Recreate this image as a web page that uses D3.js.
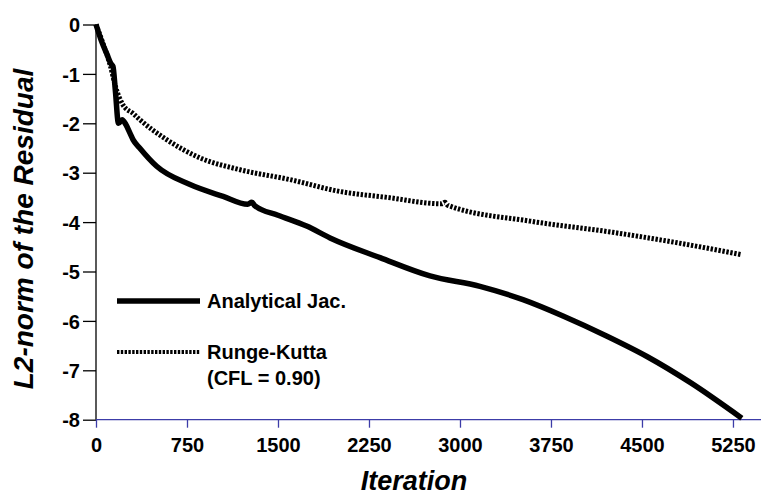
<!DOCTYPE html>
<html>
<head>
<meta charset="utf-8">
<script src="https://cdn.jsdelivr.net/npm/d3@7"></script>
<style>
  html, body { margin: 0; padding: 0; background: #fff; }
  svg { display: block; }
  text { font-family: Arial, "Liberation Sans", sans-serif; font-weight: bold; fill: #000; }
</style>
</head>
<body>
<svg id="chart" width="761" height="496"></svg>
<script>
// ---- Data ----
const xTicks = [0, 750, 1500, 2250, 3000, 3750, 4500, 5250];
const yTicks = [0, -1, -2, -3, -4, -5, -6, -7, -8];

const analyticalIter = [0, 40, 90, 125, 140, 160, 185, 215, 245, 280, 305, 360, 500, 775, 1048, 1250, 1285, 1310, 1500, 1736, 1929, 2341, 2753, 3165, 3519, 3849, 4212, 4541, 4900, 5323];
const analyticalRes  = [0, -0.3, -0.6, -0.8, -0.85, -1.35, -2.0, -1.93, -2.02, -2.2, -2.33, -2.5, -2.87, -3.24, -3.48, -3.64, -3.6, -3.67, -3.86, -4.08, -4.32, -4.72, -5.09, -5.30, -5.57, -5.90, -6.31, -6.72, -7.25, -7.97];

const rkIter = [0, 60, 120, 160, 223, 305, 363, 582, 857, 1187, 1599, 2011, 2400, 2850, 2876, 2900, 3577, 4212, 4700, 5323];
const rkRes  = [0, -0.4, -0.85, -1.25, -1.63, -1.8, -1.93, -2.33, -2.70, -2.94, -3.14, -3.38, -3.5, -3.63, -3.6, -3.66, -3.98, -4.19, -4.38, -4.66];

const seriesNames = ["Analytical Jac.", "Runge-Kutta"];
const rkNote = "(CFL = 0.90)";
const xTitle = "Iteration";
const yTitle = "L2-norm of the Residual";

// ---- Layout ----
const svg = d3.select("#chart");
const x = d3.scaleLinear().domain([0, 5500]).range([96, 763.3]);
const y = d3.scaleLinear().domain([0, -8]).range([24.5, 419.7]);

// Y axis
const yAxis = svg.append("g").attr("transform", `translate(${x(0)},0)`)
  .call(d3.axisLeft(y).tickValues(yTicks).tickSize(13).tickPadding(3).tickFormat(d3.format("d")));
yAxis.select(".domain").attr("stroke", "#000").attr("stroke-width", 1.3).attr("d", `M0,${y(0)}V${y(-8)}`);
yAxis.selectAll(".tick line").attr("stroke", "#000").attr("stroke-width", 1.3);
yAxis.selectAll(".tick text").attr("font-size", 20).attr("font-family", "Arial, 'Liberation Sans', sans-serif")
  .attr("font-weight", "bold").attr("fill", "#000").attr("dy", "0.36em").text(d => d === 0 ? "0" : "-" + Math.abs(d));

// X axis
const axisBlue = "#3c3ca8";
const xAxis = svg.append("g").attr("transform", `translate(0,${y(-8)})`)
  .call(d3.axisBottom(x).tickValues(xTicks).tickSize(8).tickPadding(10).tickFormat(d3.format("d")));
xAxis.select(".domain").attr("stroke", axisBlue).attr("stroke-width", 1.3).attr("d", `M${x(0)},0H761`);
xAxis.selectAll(".tick line").attr("stroke", axisBlue).attr("stroke-width", 1.3);
xAxis.selectAll(".tick text").attr("font-size", 20).attr("font-family", "Arial, 'Liberation Sans', sans-serif")
  .attr("font-weight", "bold").attr("fill", "#000");

// Lines
const line = d3.line().curve(d3.curveMonotoneX).x(d => x(d[0])).y(d => y(d[1]));
const rkData = rkIter.map((v, i) => [v, rkRes[i]]);
const anData = analyticalIter.map((v, i) => [v, analyticalRes[i]]);

svg.append("path").datum(rkData).attr("d", line)
  .attr("fill", "none").attr("stroke", "#000").attr("stroke-width", 5)
  .attr("stroke-dasharray", "2.4,1.6");

svg.append("path").datum(anData).attr("d", line)
  .attr("fill", "none").attr("stroke", "#000").attr("stroke-width", 5.5)
  .attr("stroke-linejoin", "round");

// Legend
const lg = svg.append("g");
lg.append("line").attr("x1", 117).attr("x2", 200).attr("y1", 301).attr("y2", 301)
  .attr("stroke", "#000").attr("stroke-width", 5.5);
lg.append("text").attr("x", 207).attr("y", 308).attr("font-size", 20).text(seriesNames[0]);
lg.append("line").attr("x1", 117).attr("x2", 200).attr("y1", 352).attr("y2", 352)
  .attr("stroke", "#000").attr("stroke-width", 4).attr("stroke-dasharray", "2.4,1.4");
lg.append("text").attr("x", 207).attr("y", 359).attr("font-size", 20).text(seriesNames[1]);
lg.append("text").attr("x", 207).attr("y", 385).attr("font-size", 20).text(rkNote);

// Titles
svg.append("text").attr("x", 414).attr("y", 490).attr("text-anchor", "middle")
  .attr("font-size", 27).attr("font-style", "italic").text(xTitle);
svg.append("text").attr("transform", "translate(33,229) rotate(-90)").attr("text-anchor", "middle")
  .attr("font-size", 28).attr("font-style", "italic").text(yTitle);
</script>
</body>
</html>
